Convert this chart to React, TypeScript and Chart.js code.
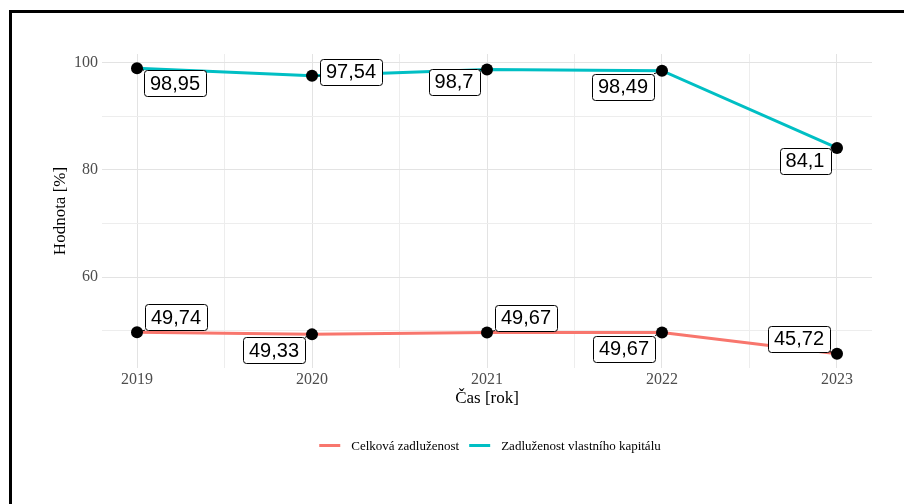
import React, { useEffect, useRef } from "react";
import { Chart, registerables } from "chart.js";

Chart.register(...registerables);

// ---- data ----
const years = [2019, 2020, 2021, 2022, 2023];
const celkovaZadluzenost = [49.74, 49.33, 49.67, 49.67, 45.72];
const zadluzenostVlastnihoKapitalu = [98.95, 97.54, 98.7, 98.49, 84.1];
const seriesNames = ["Celková zadluženost", "Zadluženost vlastního kapitálu"];
const xGridTicks = [2019, 2019.5, 2020, 2020.5, 2021, 2021.5, 2022, 2022.5, 2023];
const yGridTicks = [50, 60, 70, 80, 90, 100];
const yLabelledTicks = [60, 80, 100];
const xTitle = "Čas [rok]";
const yTitle = "Hodnota [%]";

// ---- styles ----
const COLORS = ["#F8766D", "#00BFC4"];
const SERIF = "'Liberation Serif', 'Times New Roman', serif";
const SANS = "'Liberation Sans', Arial, sans-serif";
// label offsets (px) from each point, ggrepel-like placement
const LABEL_OFFSETS: number[][][] = [
  [[39, -15], [-38, 16], [39, -15], [-38, 16], [-38, -15]],
  [[38, 15], [39, -4], [-33, 12], [-39, 16], [-32, 13]],
];

const fmt = (v: number) => String(v).replace(".", ",");

const labelPlugin = {
  id: "repelLabels",
  afterDatasetsDraw(chart: any) {
    const ctx = chart.ctx;
    ctx.save();
    ctx.font = `20px ${SANS}`;
    chart.data.datasets.forEach((ds: any, i: number) => {
      const meta = chart.getDatasetMeta(i);
      meta.data.forEach((el: any, j: number) => {
        const v = ds.data[j].y;
        const text = fmt(v);
        const tw = ctx.measureText(text).width;
        const w = tw + 12;
        const h = 26;
        const [dx, dy] = LABEL_OFFSETS[i][j];
        const cx = el.x + dx;
        const cy = el.y + dy;
        const x0 = cx - w / 2;
        const y0 = cy - h / 2;
        // segment
        const nx = Math.max(x0, Math.min(el.x, x0 + w));
        const ny = Math.max(y0, Math.min(el.y, y0 + h));
        ctx.strokeStyle = "#000";
        ctx.lineWidth = 1;
        ctx.beginPath();
        ctx.moveTo(el.x, el.y);
        ctx.lineTo(nx, ny);
        ctx.stroke();
        // box
        ctx.beginPath();
        ctx.roundRect(Math.round(x0) + 0.5, Math.round(y0) + 0.5, Math.round(w), Math.round(h), 3);
        ctx.fillStyle = "#fff";
        ctx.fill();
        ctx.strokeStyle = "#000";
        ctx.lineWidth = 1;
        ctx.stroke();
        ctx.fillStyle = "#000";
        ctx.textAlign = "center";
        ctx.textBaseline = "middle";
        ctx.fillText(text, cx, cy + 1);
      });
    });
    ctx.restore();
  },
  afterDraw(chart: any) {
    // legend
    const ctx = chart.ctx;
    const area = chart.chartArea;
    ctx.save();
    ctx.font = `13px ${SERIF}`;
    const sw = 21;
    const gapText = 11;
    const gapItem = 10;
    const widths = seriesNames.map((n) => ctx.measureText(n).width);
    const total = widths.reduce((a, b) => a + b, 0) + seriesNames.length * (sw + gapText) + gapItem * (seriesNames.length - 1);
    let x = (area.left + area.right) / 2 + 3 - total / 2;
    const y = 445.5;
    seriesNames.forEach((n, i) => {
      ctx.strokeStyle = COLORS[i];
      ctx.lineWidth = 3;
      ctx.beginPath();
      ctx.moveTo(x, y);
      ctx.lineTo(x + sw, y);
      ctx.stroke();
      x += sw + gapText;
      ctx.fillStyle = "#000";
      ctx.textAlign = "left";
      ctx.textBaseline = "middle";
      ctx.fillText(n, x, y + 1);
      x += widths[i] + gapItem;
    });
    ctx.restore();
  },
};

export default function App() {
  const ref = useRef<HTMLCanvasElement | null>(null);

  useEffect(() => {
    if (!ref.current) return;
    const seriesValues = [celkovaZadluzenost, zadluzenostVlastnihoKapitalu];
    const chart = new Chart(ref.current, {
      type: "line",
      data: {
        datasets: seriesValues.map((vals, i) => ({
          label: seriesNames[i],
          data: years.map((yr, k) => ({ x: yr, y: vals[k] })),
          borderColor: COLORS[i],
          backgroundColor: COLORS[i],
          borderWidth: 3,
          pointRadius: 6,
          pointBackgroundColor: "#000",
          pointBorderWidth: 0,
          pointHoverRadius: 6,
          tension: 0,
          fill: false,
        })),
      },
      options: {
        animation: false,
        responsive: false,
        maintainAspectRatio: false,
        events: [],
        layout: { padding: { left: 50, top: 54, right: 32, bottom: 86 } },
        plugins: { legend: { display: false }, tooltip: { enabled: false } },
        scales: {
          x: {
            type: "linear",
            min: 2018.8,
            max: 2023.2,
            afterBuildTicks: (s: any) => {
              s.ticks = xGridTicks.map((v) => ({ value: v }));
            },
            afterFit: (s: any) => {
              s.height = 50;
            },
            ticks: {
              autoSkip: false,
              maxRotation: 0,
              padding: 2,
              color: "#4D4D4D",
              font: { family: SERIF, size: 16 },
              callback: (v: any) => (Number.isInteger(v) ? String(v) : ""),
            },
            grid: {
              drawTicks: false,
              color: (c: any) => (Number.isInteger(c.tick?.value) ? "#e3e3e3" : "#ededed"),
              lineWidth: 1,
            },
            border: { display: false },
            title: {
              display: true,
              text: xTitle,
              color: "#000",
              font: { family: SERIF, size: 17 },
              padding: { top: 0, bottom: 9 },
            },
          },
          y: {
            type: "linear",
            min: 43.06,
            max: 101.61,
            afterBuildTicks: (s: any) => {
              s.ticks = yGridTicks.map((v) => ({ value: v }));
            },
            afterFit: (s: any) => {
              s.width = 52;
            },
            ticks: {
              autoSkip: false,
              padding: 4,
              color: "#4D4D4D",
              font: { family: SERIF, size: 16 },
              callback: (v: any) => (yLabelledTicks.includes(v) ? String(v) : ""),
            },
            grid: {
              drawTicks: false,
              color: (c: any) => (yLabelledTicks.includes(c.tick?.value) ? "#e3e3e3" : "#ededed"),
              lineWidth: 1,
            },
            border: { display: false },
            title: {
              display: true,
              text: yTitle,
              color: "#000",
              font: { family: SERIF, size: 17 },
              padding: { top: 0, bottom: 0 },
            },
          },
        },
      },
      plugins: [labelPlugin],
    } as any);
    return () => chart.destroy();
  }, []);

  return (
    <div style={{ position: "fixed", inset: 0, overflow: "hidden", background: "#fff" }}>
      <div
        style={{
          position: "absolute",
          left: 9,
          top: 10,
          width: 1000,
          height: 700,
          border: "3px solid #000",
          boxSizing: "border-box",
        }}
      />
      <canvas
        ref={ref}
        width={904}
        height={504}
        style={{ position: "absolute", left: 0, top: 0, display: "block", width: 904, height: 504 }}
      />
    </div>
  );
}
